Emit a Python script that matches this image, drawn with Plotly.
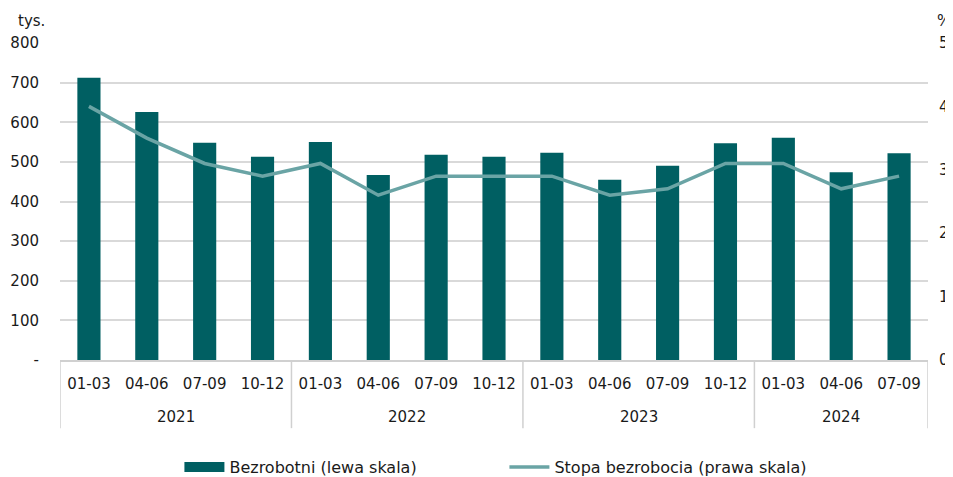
import plotly.graph_objects as go

years = ["2021"] * 4 + ["2022"] * 4 + ["2023"] * 4 + ["2024"] * 3
quarters = ["01-03", "04-06", "07-09", "10-12"] * 3 + ["01-03", "04-06", "07-09"]
bezrobotni = [712, 626, 548, 513, 550, 467, 518, 513, 523, 455, 490, 547, 561, 474, 522]
stopa = [4.0, 3.5, 3.1, 2.9, 3.1, 2.6, 2.9, 2.9, 2.9, 2.6, 2.7, 3.1, 3.1, 2.7, 2.9]

left_ticks = [0, 100, 200, 300, 400, 500, 600, 700, 800]
left_text = ["-", "100", "200", "300", "400", "500", "600", "700", "800"]
right_ticks = [0, 1, 2, 3, 4, 5]

BAR_C = "#005F62"
LINE_C = "#6AA4A5"
GRID_C = "#d9d9d9"
AXIS_C = "#d0d0d0"
FONT = "DejaVu Sans"

cats = [f"{y} {q}" for y, q in zip(years, quarters)]

# year groups (start index, end index) derived from the data
groups = []
for i, y in enumerate(years):
    if not groups or groups[-1][0] != y:
        groups.append([y, i, i])
    else:
        groups[-1][2] = i

fig = go.Figure()
fig.add_trace(go.Bar(x=cats, y=bezrobotni, name="Bezrobotni (lewa skala)",
                     marker=dict(color=BAR_C, line=dict(width=0)), yaxis="y",
                     showlegend=False))
# legend swatch for the bars (wide rectangle as in the reference)
fig.add_trace(go.Scatter(x=[None], y=[None], name="Bezrobotni (lewa skala)", mode="lines",
                         line=dict(color=BAR_C, width=10), yaxis="y", hoverinfo="skip"))
fig.add_trace(go.Scatter(x=cats, y=stopa, name="Stopa bezrobocia (prawa skala)",
                         mode="lines", line=dict(color=LINE_C, width=3.5), yaxis="y2"))

annotations = [
    dict(text="tys.", xref="paper", yref="paper", x=-0.0328, y=1.069, xanchor="center",
         yanchor="middle", showarrow=False, font=dict(size=15)),
    dict(text="%", xref="paper", yref="paper", x=1.0185, y=1.069, xanchor="center",
         yanchor="middle", showarrow=False, font=dict(size=15)),
]
shapes = []
for name, a, b in groups:
    annotations.append(dict(text=name, xref="x", yref="paper", x=(a + b) / 2, y=-0.18,
                            xanchor="center", yanchor="middle", showarrow=False,
                            font=dict(size=15)))
bounds = [g[1] - 0.5 for g in groups] + [groups[-1][2] + 0.5]
for xb in bounds:
    shapes.append(dict(type="line", xref="x", yref="paper", x0=xb, x1=xb, y0=0, y1=-0.215,
                       line=dict(color=AXIS_C, width=1.5), layer="below"))

fig.update_layout(
    width=945, height=469,
    margin=dict(l=52, r=25, t=35, b=117, autoexpand=False),
    paper_bgcolor="white", plot_bgcolor="white",
    font=dict(family=FONT, size=15, color="#1a1a1a"),
    bargap=0.6,
    showlegend=True,
    legend=dict(orientation="h", x=0.512, xanchor="center", y=-0.3375, yanchor="middle",
                font=dict(size=16), itemwidth=40, entrywidth=270, traceorder="normal"),
    xaxis=dict(type="category", tickvals=cats, ticktext=quarters, showline=True,
               linecolor=AXIS_C, linewidth=1.5, tickfont=dict(size=15), showgrid=False,
               automargin=False, ticks="", ticklabelstandoff=9,
               range=[-0.5, len(cats) - 0.5]),
    yaxis=dict(range=[0, 800], tickvals=left_ticks, ticktext=left_text,
               showgrid=True, gridcolor=GRID_C, gridwidth=1.5, zeroline=False,
               ticks="", ticklabelstandoff=20, automargin=False),
    yaxis2=dict(range=[0, 5], tickvals=right_ticks, overlaying="y", side="right",
                showgrid=False, zeroline=False, ticks="", ticklabelstandoff=10,
                automargin=False),
    annotations=annotations,
    shapes=shapes,
)

fig.write_html("out.html")
